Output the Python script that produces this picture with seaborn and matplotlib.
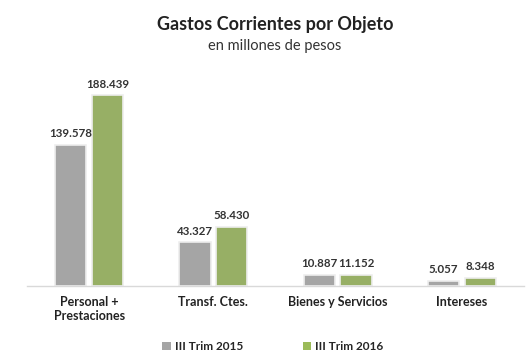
import matplotlib
matplotlib.use("Agg")
import matplotlib.pyplot as plt
from matplotlib.patches import Patch
import seaborn as sns
import pandas as pd

categorias = ["Personal +\nPrestaciones", "Transf. Ctes.", "Bienes y Servicios", "Intereses"]
periodos = ["III Trim 2015", "III Trim 2016"]
trim_2015 = [139.578, 43.327, 10.887, 5.057]
trim_2016 = [188.439, 58.430, 11.152, 8.348]
colores = ["#A5A5A5", "#9BBB59"]

df = pd.DataFrame({
    "categoria": categorias * 2,
    "periodo": [periodos[0]] * 4 + [periodos[1]] * 4,
    "valor": trim_2015 + trim_2016,
})

sns.set_theme(style="white")
plt.rcParams["font.family"] = ["Lato", "DejaVu Sans"]

fig = plt.figure(figsize=(5.26, 3.59), dpi=100)
ax = fig.add_axes([27 / 526, 0.2033, 497 / 526, 0.5644])

sns.barplot(data=df, x="categoria", y="valor", hue="periodo", order=categorias,
            hue_order=periodos, palette=colores, width=0.59, gap=0.15,
            edgecolor="#EEEEEE", linewidth=1.2, legend=False, ax=ax)

for cont in ax.containers:
    ax.bar_label(cont, labels=[f"{v:.3f}" for v in cont.datavalues], padding=4,
                 fontsize=8.3, fontweight="bold", color="#333333")

ax.set_ylim(0, 200)
ax.set_xlim(-0.5, 3.5)
ax.set_xlabel("")
ax.set_ylabel("")
ax.set_yticks([])
ax.tick_params(axis="x", length=0, pad=7)
for lbl in ax.get_xticklabels():
    lbl.set_fontweight("bold")
    lbl.set_fontsize(9)
    lbl.set_color("#222222")
for side in ["top", "right", "left"]:
    ax.spines[side].set_visible(False)
ax.spines["bottom"].set_color("#D9D9D9")
ax.spines["bottom"].set_linewidth(1.0)

fig.text(0.523, 0.933, "Gastos Corrientes por Objeto", ha="center", va="center",
         fontsize=13, fontweight="bold", color="#222222")
fig.text(0.523, 0.873, "en millones de pesos", ha="center", va="center",
         fontsize=10.5, color="#333333")

handles = [Patch(facecolor=c, edgecolor="none") for c in colores]
fig.legend(handles, periodos, loc="center", bbox_to_anchor=(0.519, 0.035), ncol=2,
           frameon=False, handlelength=0.7, handleheight=0.7, handletextpad=0.4,
           columnspacing=5.0, prop={"weight": "bold", "size": 8.5})

fig.savefig("out.png", dpi=100)
